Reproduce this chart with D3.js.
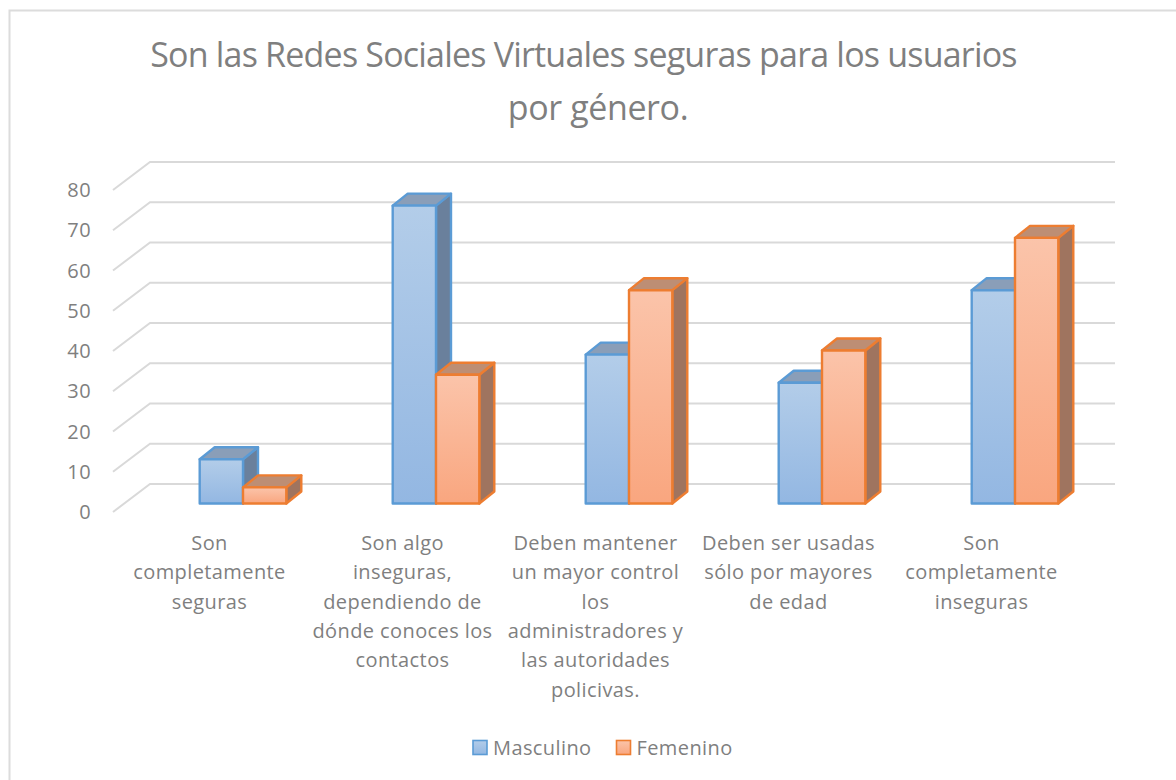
<!DOCTYPE html>
<html>
<head>
<meta charset="utf-8">
<script src="https://cdn.jsdelivr.net/npm/d3@7"></script>
<style>
  html, body { margin: 0; background: #fff; }
  text { font-family: "Open Sans", sans-serif; fill: #7f7f7f; }
</style>
</head>
<body>
<svg id="chart" width="1176" height="780"></svg>
<script>
const titleLines = ['Son las Redes Sociales Virtuales seguras para los usuarios', 'por género.'];
const categories = ['cat1', 'cat2', 'cat3', 'cat4', 'cat5'];
const categoryLabels = [
  ['Son', 'completamente', 'seguras'],
  ['Son algo', 'inseguras,', 'dependiendo de', 'dónde conoces los', 'contactos'],
  ['Deben mantener', 'un mayor control', 'los', 'administradores y', 'las autoridades', 'policivas.'],
  ['Deben ser usadas', 'sólo por mayores', 'de edad'],
  ['Son', 'completamente', 'inseguras']
];
const seriesNames = ['Masculino', 'Femenino'];
const masculino = [11, 74, 37, 30, 53];
const femenino = [4, 32, 53, 38, 66];
const yTicks = [0, 10, 20, 30, 40, 50, 60, 70, 80];

const svg = d3.select('#chart');

//------frame: only top and left edges are in the crop
const width = 1176, height = 780;
svg.append('path')
  .attr('d', d3.line()([[width, 10.5], [9.5, 10.5], [9.5, height]]))
  .attr('fill', 'none')
  .attr('stroke', '#dcdcdc')
  .attr('stroke-width', 2);

//------scales, floor front edge to back wall
const wall = { dx: 37, dy: -28 };     // how far the back wall sits from the front
const box = { dx: 15, dy: -12 };      // depth of a bar
const x = d3.scaleBand().domain(categories).range([113, 1078]);
const y = d3.scaleLinear().domain([0, 80]).range([512, 190]);
const barWidth = 43.3;
const barFloor = y(0) - 8.5;
const barOffset = 33.5;
const h = v => y(0) - y(v);

//------gradients for the front faces
const defs = svg.append('defs');
const gradients = { Masculino: ['#b3cde9', '#93b7e2'], Femenino: ['#fbc4aa', '#f9a67f'] };
seriesNames.forEach(name => {
  const g = defs.append('linearGradient').attr('id', 'grad' + name)
    .attr('x1', 0).attr('y1', 0).attr('x2', 0).attr('y2', 1);
  g.append('stop').attr('offset', 0).attr('stop-color', gradients[name][0]);
  g.append('stop').attr('offset', 1).attr('stop-color', gradients[name][1]);
});
const styles = {
  Masculino: { stroke: '#5b9bd5', top: '#8a9eb8', side: '#6a809c' },
  Femenino: { stroke: '#ed7d31', top: '#bd8e74', side: '#9f745f' }
};

//------gridlines on wall and left side
const grid = svg.append('g').attr('fill', 'none').attr('stroke', '#d9d9d9').attr('stroke-width', 2);
grid.selectAll('path').data(yTicks).join('path')
  .attr('d', d => d3.line()([
    [113, y(d)],
    [113 + wall.dx, y(d) + wall.dy],
    [1115, y(d) + wall.dy]
  ]));

//------y labels
svg.append('g').selectAll('text').data(yTicks).join('text')
  .attr('x', 91)
  .attr('y', d => y(d))
  .attr('dy', '0.35em')
  .attr('text-anchor', 'end')
  .attr('font-size', 20)
  .attr('letter-spacing', 0.4)
  .text(d => d);

//------bars, one cuboid per value
function drawBar(g, x0, value, name) {
  const s = styles[name];
  const top = barFloor - h(value);
  const x1 = x0 + barWidth;
  const poly = pts => d3.line()(pts) + 'Z';
  g.append('path')
    .attr('d', poly([[x1, top], [x1 + box.dx, top + box.dy], [x1 + box.dx, barFloor + box.dy], [x1, barFloor]]))
    .attr('fill', s.side).attr('stroke', s.stroke);
  g.append('path')
    .attr('d', poly([[x0, top], [x0 + box.dx, top + box.dy], [x1 + box.dx, top + box.dy], [x1, top]]))
    .attr('fill', s.top).attr('stroke', s.stroke);
  g.append('path')
    .attr('d', poly([[x0, top], [x1, top], [x1, barFloor], [x0, barFloor]]))
    .attr('fill', 'url(#grad' + name + ')').attr('stroke', s.stroke);
}

const bars = svg.append('g').attr('stroke-width', 2.4).attr('stroke-linejoin', 'round');
categories.forEach((c, i) => {
  const centre = x(c) + x.bandwidth() / 2 + barOffset;
  drawBar(bars.append('g'), centre - barWidth, masculino[i], 'Masculino');
  drawBar(bars.append('g'), centre, femenino[i], 'Femenino');
});

//------category labels
const labels = svg.append('g').attr('text-anchor', 'middle').attr('font-size', 20).attr('letter-spacing', 0.4);
categories.forEach((c, i) => {
  labels.selectAll('text.l' + i).data(categoryLabels[i]).join('text')
    .attr('class', 'l' + i)
    .attr('x', x(c) + x.bandwidth() / 2)
    .attr('y', (d, j) => 550 + j * 29.3)
    .text(d => d);
});

//------title, second line sits a bit right of the first in the reference
const titleX = [583.5, 598];
const titleSpacing = [-0.8, -0.4];
svg.append('g').attr('text-anchor', 'middle').attr('font-size', 34)
  .selectAll('text').data(titleLines).join('text')
  .attr('x', (d, j) => titleX[j])
  .attr('y', (d, j) => 67 + j * 53)
  .attr('letter-spacing', (d, j) => titleSpacing[j])
  .text(d => d);

//------legend
const legendX = [473, 616.5];
const legend = svg.append('g').selectAll('g').data(seriesNames).join('g')
  .attr('transform', (d, i) => `translate(${legendX[i]},740.5)`);
legend.append('rect')
  .attr('width', 14).attr('height', 14)
  .attr('fill', d => `url(#grad${d})`)
  .attr('stroke', d => styles[d].stroke)
  .attr('stroke-width', 1.6);
legend.append('text')
  .attr('x', 20).attr('y', 14.5)
  .attr('font-size', 20)
  .attr('letter-spacing', 0.4)
  .text(d => d);
</script>
</body>
</html>
